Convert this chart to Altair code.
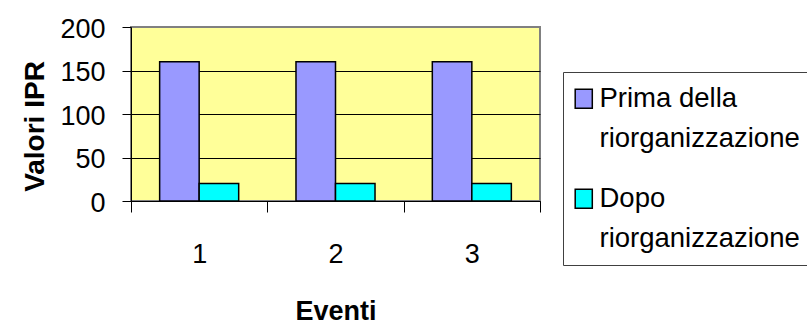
import altair as alt
import pandas as pd

# Event categories, series names and their values
eventi = ["1", "2", "3"]
serie = ["Prima della riorganizzazione", "Dopo riorganizzazione"]
prima = [160, 160, 160]
dopo = [20, 20, 20]
colori = ["#9999FF", "#00FFFF"]
y_ticks = [0, 50, 100, 150, 200]

rows = []
for i, ev in enumerate(eventi):
    rows.append({"Eventi": ev, "Serie": serie[0], "Valore": prima[i]})
    rows.append({"Eventi": ev, "Serie": serie[1], "Valore": dopo[i]})
df = pd.DataFrame(rows)

FONT = "Liberation Sans"

# break each legend label before its last word; the trailing blanks widen
# the legend box so that it runs past the right edge of the canvas
split_label = (
    "[slice(datum.label, 0, lastindexof(datum.label, ' ')), "
    "slice(datum.label, lastindexof(datum.label, ' ') + 1) + '    ']"
)

chart = (
    alt.Chart(df)
    .mark_bar(stroke="black", strokeWidth=1.5)
    .encode(
        x=alt.X(
            "Eventi:N",
            sort=eventi,
            scale=alt.Scale(paddingInner=0, paddingOuter=0),
            axis=alt.Axis(
                title="Eventi",
                labelAngle=0,
                tickBand="extent",
                tickSize=11,
                tickColor="black",
                domainColor="black",
                labelFont=FONT,
                labelFontSize=27,
                labelColor="black",
                labelBaseline="alphabetic",
                labelPadding=50,
                titleFont=FONT,
                titleFontSize=27,
                titleFontWeight="bold",
                titleColor="black",
                titleBaseline="alphabetic",
                titleY=118,
                grid=False,
            ),
        ),
        xOffset=alt.XOffset(
            "Serie:N",
            sort=serie,
            scale=alt.Scale(paddingInner=0, paddingOuter=0.725),
        ),
        y=alt.Y(
            "Valore:Q",
            scale=alt.Scale(domain=[0, 200], nice=False),
            axis=alt.Axis(
                title="Valori IPR",
                values=y_ticks,
                tickSize=9,
                tickColor="black",
                domainColor="black",
                labelFont=FONT,
                labelFontSize=27,
                labelColor="black",
                labelBaseline="alphabetic",
                labelOffset=10,
                labelPadding=17,
                titleFont=FONT,
                titleFontSize=28,
                titleFontWeight="bold",
                titleColor="black",
                titleAngle=270,
                titleAlign="center",
                titleBaseline="alphabetic",
                titleX=-88,
                titleY=99,
                grid=True,
                gridColor={
                    "condition": {"test": "datum.value == 200", "value": "#808080"},
                    "value": "black",
                },
                gridWidth=1,
            ),
        ),
        color=alt.Color(
            "Serie:N",
            sort=serie,
            scale=alt.Scale(domain=serie, range=colori),
            legend=alt.Legend(
                # blank title only adds a little space above the entries
                title=" ",
                titleFontSize=1,
                titlePadding=8,
                orient="none",
                legendX=432,
                legendY=45,
                direction="vertical",
                fillColor="white",
                strokeColor="#404040",
                padding=12,
                # square shifted so it sits beside the first text line
                symbolType="M-0.9,-1.85H0.9V0.15H-0.9Z",
                symbolSize=361,
                symbolStrokeColor="black",
                symbolStrokeWidth=1.5,
                symbolOpacity=1,
                symbolOffset=-5,
                labelFont=FONT,
                labelFontSize=27.5,
                labelColor="black",
                labelLimit=500,
                labelOffset=2,
                labelBaseline="alphabetic",
                labelExpr=split_label,
                rowPadding=31,
            ),
        ),
    )
    .properties(
        width=409,
        height=174,
        autosize=alt.AutoSizeParams(type="none"),
        padding={"left": 131, "top": 27, "right": 267, "bottom": 123},
        background="white",
        config=alt.Config(
            view=alt.ViewConfig(fill="#FFFF99", stroke="#808080", strokeWidth=2),
            style={"guide-label": {"lineHeight": 40}},
        ),
    )
)

chart.save("out.html", embed_options={"renderer": "svg", "actions": False})
